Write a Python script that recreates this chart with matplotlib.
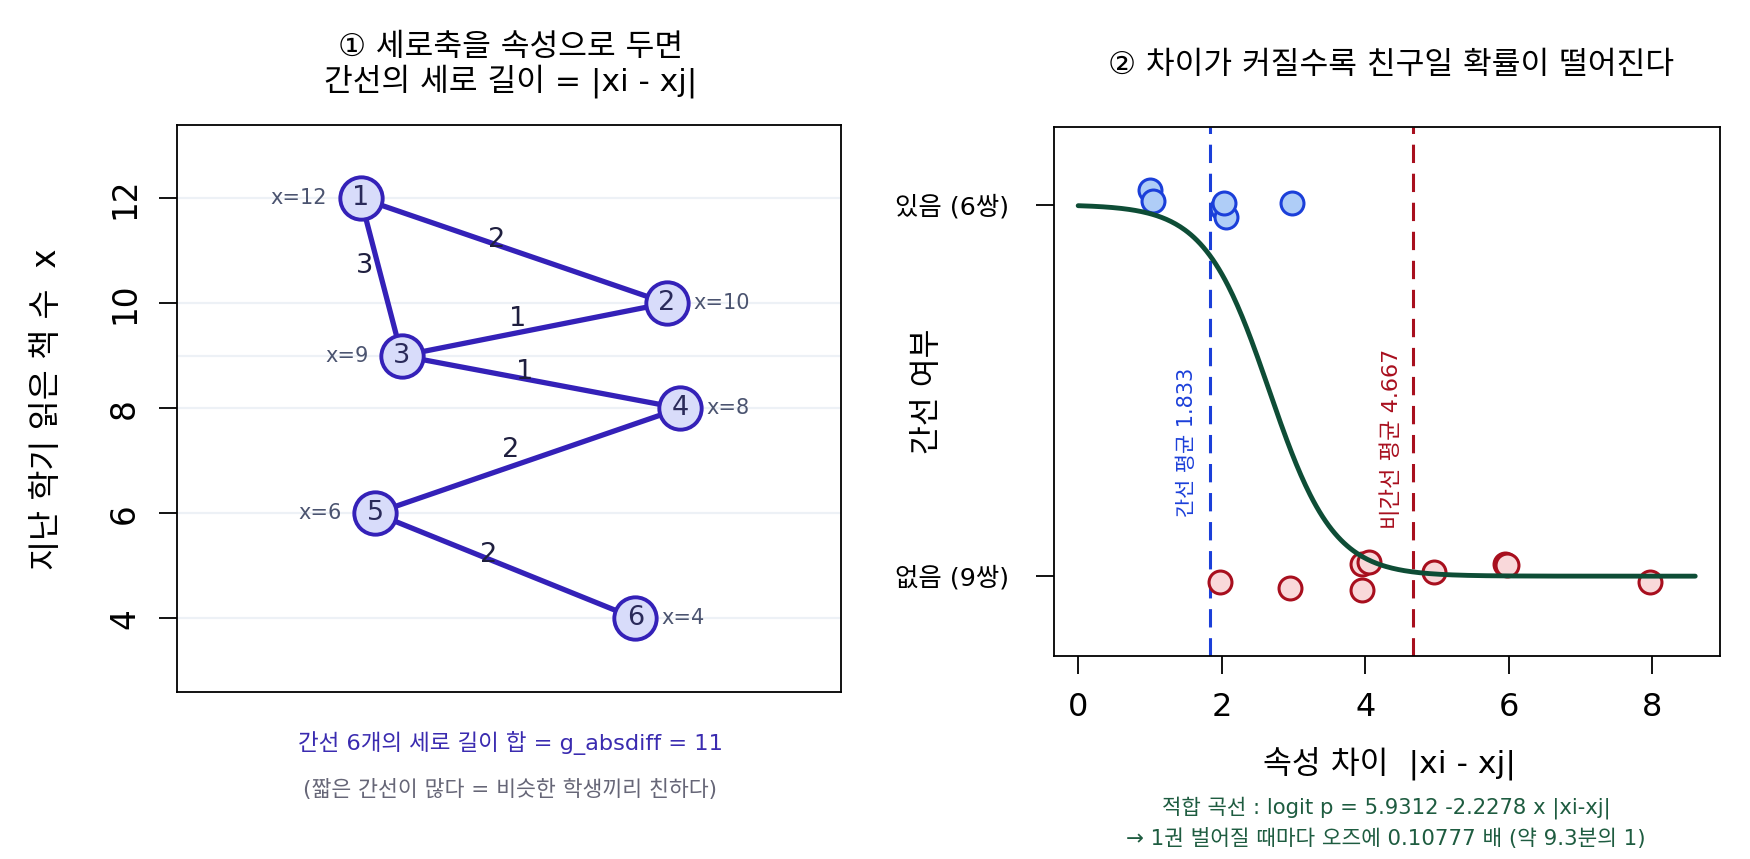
import numpy as np
import matplotlib
matplotlib.use("Agg")
import matplotlib.pyplot as plt

plt.rcParams['font.family'] = ['DejaVu Sans', 'Noto Sans CJK KR']
plt.rcParams['axes.unicode_minus'] = False

# ---------------- data ----------------
node_ids = ["1", "2", "3", "4", "5", "6"]
node_attr = [12, 10, 9, 8, 6, 4]                   # 지난 학기 읽은 책 수 x
node_hpos = [0.258, 0.756, 0.325, 0.778, 0.282, 0.705]   # horizontal layout
node_label_side = ["left", "right", "left", "right", "left", "right"]
edges = [(0, 1), (0, 2), (1, 2), (2, 3), (3, 4), (4, 5)]

tie_diff = [1, 1, 2, 2, 2, 3]
tie_jx = [0.00, 0.04, 0.005, 0.06, 0.03, -0.015]
tie_jy = [0.039, 0.010, -0.008, -0.033, 0.005, 0.005]

non_diff = [2, 3, 4, 4, 4, 5, 6, 6, 8]
non_jx = [-0.02, -0.05, -0.05, 0.06, -0.05, -0.04, -0.05, -0.03, -0.03]
non_jy = [-0.016, -0.033, 0.034, 0.037, -0.036, 0.010, 0.034, 0.029, -0.015]

b0, b1 = 5.9312, -2.2278
tie_mean = 1.833
non_mean = 4.667

# ---------------- colors ----------------
C_EDGE = '#3421B8'
C_NODE_FILL = '#D8DCFA'
C_NODE_TXT = '#2A2A5A'
C_XLAB = '#4B5470'
C_GRID = '#EDF1F6'
C_BLUE = '#1B3FD9'
C_BLUE_F = '#AFCDF7'
C_RED = '#A80F1E'
C_RED_F = '#F9D8DA'
C_CURVE = '#0E4D36'
C_GREEN_TXT = '#1E5C40'

fig = plt.figure(figsize=(17.5, 8.59), dpi=100)

# ---------------- left panel ----------------
ax1 = fig.add_axes([0.1013, 0.1945, 0.3795, 0.6605])
ax1.set_xlim(-0.04, 1.04)
ax1.set_ylim(2.6, 13.4)
for v in node_attr:
    ax1.axhline(v, color=C_GRID, lw=1.6, zorder=0)
for (i, j) in edges:
    ax1.plot([node_hpos[i], node_hpos[j]], [node_attr[i], node_attr[j]],
             color=C_EDGE, lw=3.8, zorder=2, solid_capstyle='round')
    mx = (node_hpos[i] + node_hpos[j]) / 2
    my = (node_attr[i] + node_attr[j]) / 2
    ax1.annotate(str(abs(node_attr[i] - node_attr[j])), (mx, my),
                 xytext=(-12, 7.5), textcoords='offset points',
                 ha='center', va='center', fontsize=19.5, color='#1F1F3F', zorder=5)
ax1.plot(node_hpos, node_attr, 'o', ms=30.5, mfc=C_NODE_FILL, mec=C_EDGE,
         mew=2.8, zorder=3, linestyle='none')
for k in range(len(node_ids)):
    ax1.text(node_hpos[k], node_attr[k], node_ids[k], ha='center', va='center',
             fontsize=19.5, color=C_NODE_TXT, zorder=4)
    if node_label_side[k] == "left":
        ax1.annotate(f"x={node_attr[k]}", (node_hpos[k], node_attr[k]),
                     xytext=(-24, 0), textcoords='offset points',
                     ha='right', va='center', fontsize=15, color=C_XLAB)
    else:
        ax1.annotate(f"x={node_attr[k]}", (node_hpos[k], node_attr[k]),
                     xytext=(19, 0), textcoords='offset points',
                     ha='left', va='center', fontsize=15, color=C_XLAB)
ax1.set_xticks([])
ax1.set_yticks([4, 6, 8, 10, 12])
ax1.set_yticklabels(["4", "6", "8", "10", "12"], rotation=90, va='center')
ax1.tick_params(axis='y', length=13, width=1.3, pad=13, labelsize=23.5)
for s in ax1.spines.values():
    s.set_linewidth(1.3)

fig.text(0.0265, 0.5235, "지난 학기 읽은 책 수  x", rotation=90,
         ha='center', va='center', fontsize=23.5)
fig.text(0.2917, 0.945, "① 세로축을 속성으로 두면", ha='center', va='center', fontsize=22.5)
fig.text(0.2917, 0.906, "간선의 세로 길이 = |xi - xj|", ha='center', va='center', fontsize=22.5)
fig.text(0.2917, 0.1345, "간선 6개의 세로 길이 합 = g_absdiff = 11",
         ha='center', va='center', fontsize=16.2, color='#3A2BB0')
fig.text(0.2917, 0.081, "(짧은 간선이 많다 = 비슷한 학생끼리 친하다)",
         ha='center', va='center', fontsize=15.6, color='#666677')

# ---------------- right panel ----------------
ax2 = fig.add_axes([0.602, 0.2363, 0.3808, 0.6162])
ax2.set_xlim(-0.344, 8.944)
ax2.set_ylim(-0.215, 1.21)

ax2.axvline(tie_mean, color=C_BLUE, lw=2.2, dashes=(6, 3.5), zorder=1)
ax2.axvline(non_mean, color=C_RED, lw=2.2, dashes=(6, 3.5), zorder=1)
ax2.text(tie_mean - 0.31, 0.36, f"간선 평균 {tie_mean:.3f}", rotation=90,
         ha='center', va='center', fontsize=15, color=C_BLUE)
ax2.text(non_mean - 0.30, 0.37, f"비간선 평균 {non_mean:.3f}", rotation=90,
         ha='center', va='center', fontsize=16, color=C_RED)

tx = np.array(tie_diff) + np.array(tie_jx)
ty = 1 + np.array(tie_jy)
nx = np.array(non_diff) + np.array(non_jx)
ny = 0 + np.array(non_jy)
ax2.plot(tx, ty, 'o', ms=16.5, mfc=C_BLUE_F, mec=C_BLUE, mew=2.2, linestyle='none', zorder=2)
ax2.plot(nx, ny, 'o', ms=16.5, mfc=C_RED_F, mec=C_RED, mew=2.2, linestyle='none', zorder=2)

xs = np.linspace(0, 8.6, 400)
ps = 1 / (1 + np.exp(-(b0 + b1 * xs)))
ax2.plot(xs, ps, color=C_CURVE, lw=3.5, zorder=3, solid_capstyle='round')

ax2.set_xticks([0, 2, 4, 6, 8])
ax2.set_yticks([0, 1])
ax2.set_yticklabels(["없음 (9쌍)", "있음 (6쌍)"])
ax2.tick_params(axis='x', length=13, width=1.3, pad=13, labelsize=23)
ax2.tick_params(axis='y', length=13, width=1.3, pad=19, labelsize=18.3)
for s in ax2.spines.values():
    s.set_linewidth(1.3)

fig.text(0.795, 0.924, "② 차이가 커질수록 친구일 확률이 떨어진다",
         ha='center', va='center', fontsize=22.5)
fig.text(0.530, 0.545, "간선 여부", rotation=90, ha='center', va='center', fontsize=22.6)
fig.text(0.794, 0.112, "속성 차이  |xi - xj|", ha='center', va='center', fontsize=22.6)
fig.text(0.792, 0.060, "적합 곡선 : logit p = 5.9312 -2.2278 x |xi-xj|",
         ha='center', va='center', fontsize=15.2, color=C_GREEN_TXT)
fig.text(0.792, 0.0235, "→ 1권 벌어질 때마다 오즈에 0.10777 배 (약 9.3분의 1)",
         ha='center', va='center', fontsize=15.4, color=C_GREEN_TXT)

fig.savefig("out.png", dpi=100)
